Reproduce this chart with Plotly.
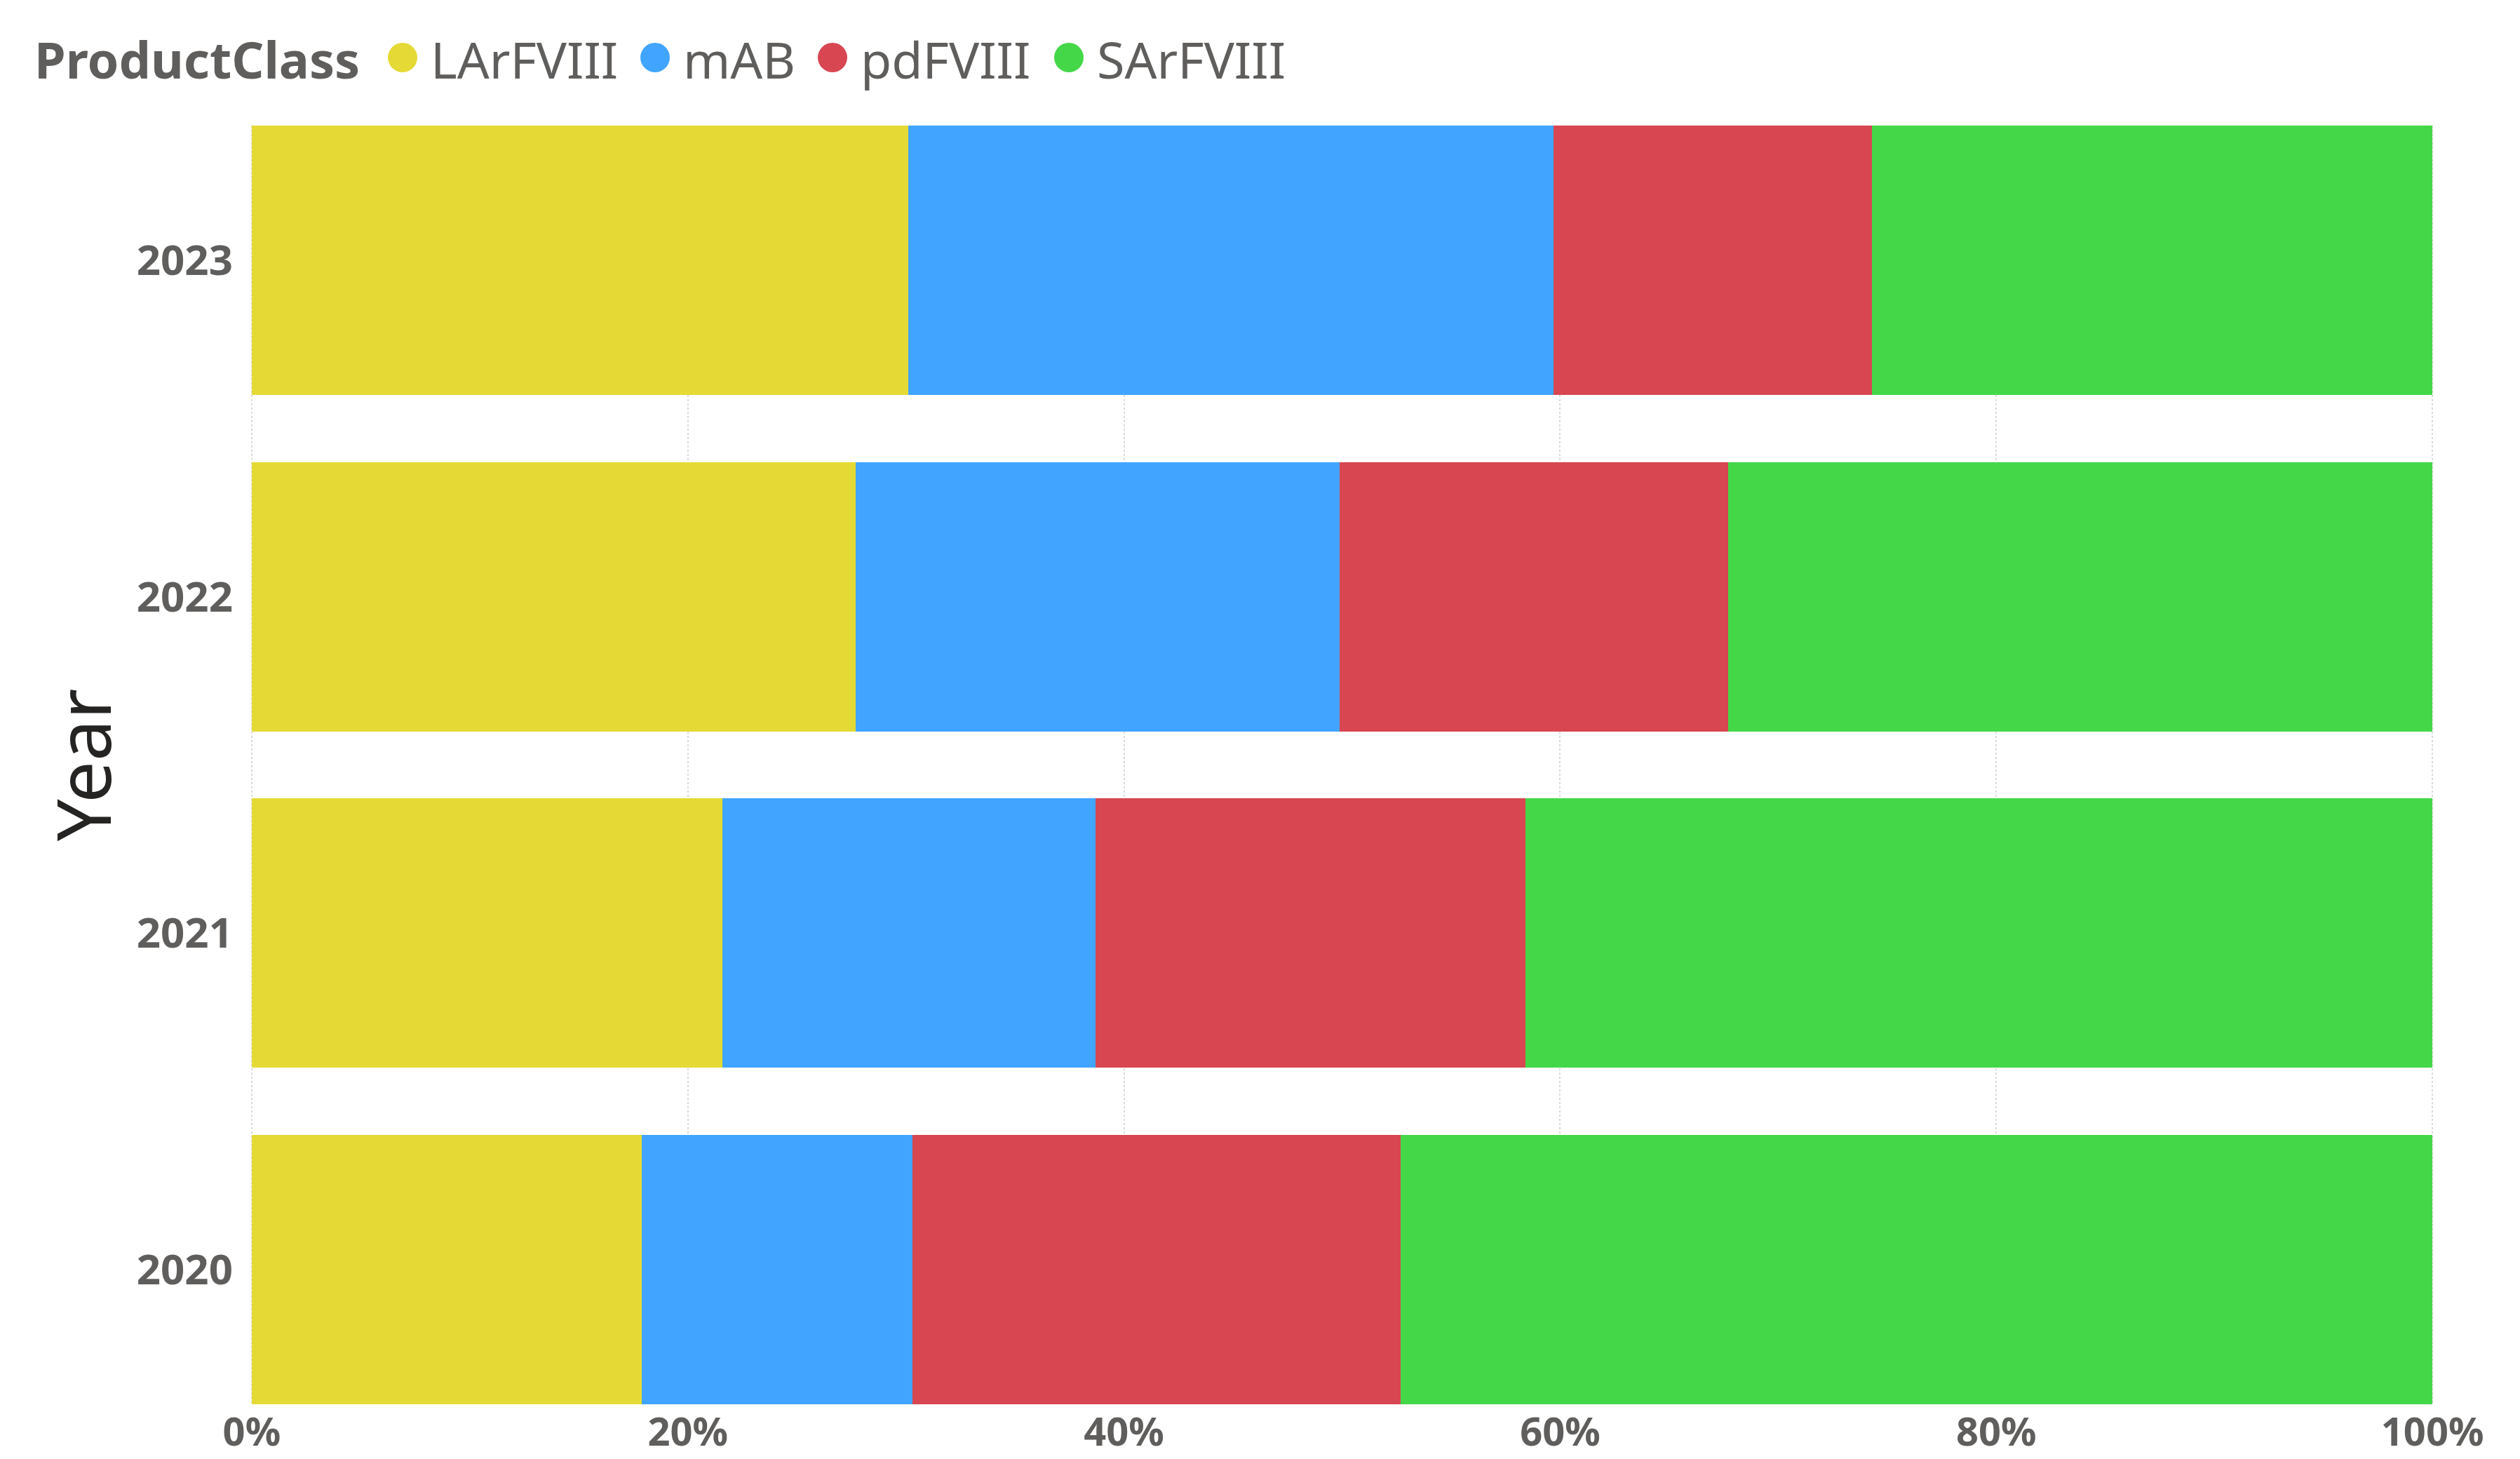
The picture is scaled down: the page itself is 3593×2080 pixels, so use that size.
import plotly.graph_objects as go

years = ["2020", "2021", "2022", "2023"]
classes = ["LArFVIII", "mAB", "pdFVIII", "SArFVIII"]
colors = ["#E5DA35", "#41A5FF", "#D74651", "#44D748"]
share_LArFVIII = [17.9, 21.6, 27.7, 30.1]
share_mAB = [12.4, 17.1, 22.2, 29.6]
share_pdFVIII = [22.4, 19.7, 17.8, 14.6]
share_SArFVIII = [47.3, 41.6, 32.3, 25.7]
series = [share_LArFVIII, share_mAB, share_pdFVIII, share_SArFVIII]
x_ticks = [0, 20, 40, 60, 80, 100]
x_ticktext = ["0%", "20%", "40%", "60%", "80%", "100%"]

# page body has an 8px margin; size the figure to fit inside the window
OFF = 8
W, H = 3593 - 2 * OFF, 2080 - OFF
PL, PR, PT, PB = 357 - OFF, 3470 - OFF, 179 - OFF, 2002 - OFF
ML, MR, MT, MB = PL, W - PR, PT, H - PB
PW = PR - PL
PH = PB - PT


def px_x(x):
    return (x - OFF - PL) / PW


def px_y(y):
    return 1 - (y - OFF - PT) / PH


fig = go.Figure()
for name, vals, col in zip(classes, series, colors):
    fig.add_trace(go.Bar(
        y=years, x=vals, name=name, orientation="h",
        marker=dict(color=col, line=dict(width=0)),
        showlegend=False,
    ))

tick_font = dict(family="Noto Sans", size=60, color="#605E5C", weight="bold")
xtick_font = dict(family="Noto Sans", size=56, color="#605E5C", weight="bold")

fig.update_layout(
    width=W, height=H,
    barmode="stack", barnorm="percent", bargap=0.2,
    paper_bgcolor="white", plot_bgcolor="white",
    margin=dict(l=ML, r=MR, t=MT, b=MB, autoexpand=False),
    font=dict(family="Noto Sans", color="#605E5C"),
    xaxis=dict(
        range=[-0.06, 100.06], tickvals=x_ticks, ticktext=x_ticktext,
        showgrid=True, gridcolor="#DADADA", gridwidth=2, griddash="dot",
        zeroline=False, showline=False, ticks="",
        tickfont=xtick_font, ticklabelstandoff=2, fixedrange=True,
    ),
    yaxis=dict(
        type="category", categoryorder="array", categoryarray=years,
        range=[-0.4, 3.4], showgrid=False, zeroline=False, showline=False,
        ticks="", tickfont=tick_font, ticklabelstandoff=24,
        title=dict(text="Year", font=dict(family="Noto Sans", size=106, color="#252423"), standoff=0),
    ),
)

# legend (Power BI style): bold title, then circle + label per class
legend_y = px_y(84)
fig.add_annotation(
    text="<b>ProductClass</b>", xref="paper", yref="paper",
    x=px_x(47), y=legend_y, xanchor="left", yanchor="middle",
    showarrow=False, font=dict(family="Noto Sans", size=72, color="#605E5C"),
)
dot_centers = [574, 934, 1187, 1524]
for name, col, cx in zip(classes, colors, dot_centers):
    fig.add_shape(
        type="circle", xref="paper", yref="paper",
        xsizemode="pixel", ysizemode="pixel",
        xanchor=px_x(cx), yanchor=px_y(82),
        x0=-21, x1=21, y0=-21, y1=21,
        fillcolor=col, line=dict(width=0), layer="above",
    )
    fig.add_annotation(
        text=name, xref="paper", yref="paper",
        x=px_x(cx + 38), y=legend_y, xanchor="left", yanchor="middle",
        showarrow=False, font=dict(family="Noto Sans", size=72, color="#605E5C"),
    )

fig.write_html("out.html")
